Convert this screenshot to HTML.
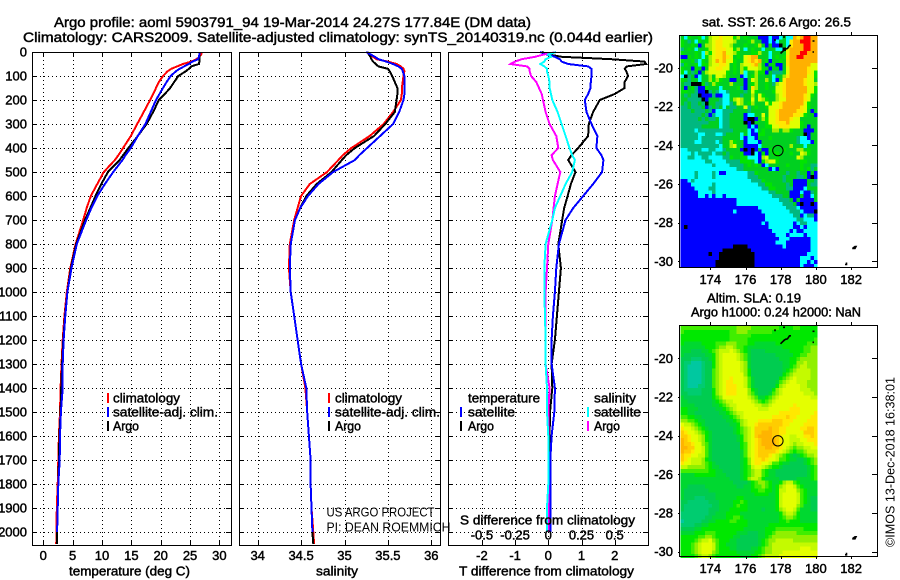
<!DOCTYPE html>
<html>
<head>
<meta charset="utf-8">
<title>Argo profile</title>
<style>
html,body{margin:0;padding:0;background:#fff;}
svg{display:block;}
text{font-family:"Liberation Sans",sans-serif;font-size:13px;fill:#000;stroke:#000;stroke-width:.45px;dominant-baseline:central;}
text.thin{stroke:none;font-size:13px;}
.frame{fill:none;stroke:#000;stroke-width:1;shape-rendering:crispEdges;}
.grid{stroke:#000;stroke-width:1;stroke-dasharray:1 3;shape-rendering:crispEdges;}
.tick{stroke:#000;stroke-width:1;shape-rendering:crispEdges;}
.line{fill:none;stroke-width:2;stroke-linejoin:miter;shape-rendering:crispEdges;}
.bar{stroke:none;shape-rendering:crispEdges;}
.cell{shape-rendering:crispEdges;stroke:none;}
</style>
</head>
<body>
<svg id="chart" xmlns="http://www.w3.org/2000/svg" width="900" height="580" viewBox="0 0 900 580">
  <rect x="0" y="0" width="900" height="580" fill="#fff"/>
  <text x="54" y="22" style="font-size:14px" textLength="477" lengthAdjust="spacingAndGlyphs">Argo profile: aoml 5903791_94 19-Mar-2014 24.27S 177.84E (DM data)</text>
  <text x="23" y="37" style="font-size:14px" textLength="630" lengthAdjust="spacingAndGlyphs">Climatology: CARS2009. Satellite-adjusted climatology: synTS_20140319.nc (0.044d earlier)</text>

  <g id="layer-grid"></g>
  <g id="layer-maps"></g>
  <g id="layer-lines"></g>
  <g id="layer-frames">
    <rect class="frame" x="32.5" y="52.5" width="199" height="493"/>
    <rect class="frame" x="239.5" y="52.5" width="201" height="493"/>
    <rect class="frame" x="448.5" y="52.5" width="200" height="493"/>
    <rect class="frame" x="679.5" y="35.5" width="198" height="232"/>
    <rect class="frame" x="679.5" y="325.5" width="198" height="231"/>
  </g>
  <g id="layer-labels"></g>

  <text x="69" y="571" textLength="121" lengthAdjust="spacingAndGlyphs">temperature (deg C)</text>
  <text x="316" y="571" textLength="42" lengthAdjust="spacingAndGlyphs">salinity</text>
  <text x="459" y="571" textLength="175" lengthAdjust="spacingAndGlyphs">T difference from climatology</text>
  <text x="460" y="520" textLength="175" lengthAdjust="spacingAndGlyphs">S difference from climatology</text>

  <g>
    <rect class="bar" x="107" y="393" width="2" height="10" fill="#f00"/>
    <text x="113" y="398" textLength="67" lengthAdjust="spacingAndGlyphs">climatology</text>
    <rect class="bar" x="107" y="407" width="2" height="10" fill="#00f"/>
    <text x="113" y="412" textLength="105" lengthAdjust="spacingAndGlyphs">satellite-adj. clim.</text>
    <rect class="bar" x="107" y="421" width="2" height="10" fill="#000"/>
    <text x="113" y="426" textLength="26" lengthAdjust="spacingAndGlyphs">Argo</text>
  </g>
  <g>
    <rect class="bar" x="328" y="393" width="2" height="10" fill="#f00"/>
    <text x="335" y="398" textLength="67" lengthAdjust="spacingAndGlyphs">climatology</text>
    <rect class="bar" x="328" y="407" width="2" height="10" fill="#00f"/>
    <text x="335" y="412" textLength="105" lengthAdjust="spacingAndGlyphs">satellite-adj. clim.</text>
    <rect class="bar" x="328" y="421" width="2" height="10" fill="#000"/>
    <text x="335" y="426" textLength="26" lengthAdjust="spacingAndGlyphs">Argo</text>
  </g>
  <g>
    <text x="468" y="398" textLength="72" lengthAdjust="spacingAndGlyphs">temperature</text>
    <rect class="bar" x="460" y="407" width="2" height="10" fill="#00f"/>
    <text x="468" y="412" textLength="47" lengthAdjust="spacingAndGlyphs">satellite</text>
    <rect class="bar" x="460" y="421" width="2" height="10" fill="#000"/>
    <text x="468" y="426" textLength="26" lengthAdjust="spacingAndGlyphs">Argo</text>
    <text x="594" y="398" textLength="42" lengthAdjust="spacingAndGlyphs">salinity</text>
    <rect class="bar" x="587" y="407" width="2" height="10" fill="#0ff"/>
    <text x="594" y="412" textLength="47" lengthAdjust="spacingAndGlyphs">satellite</text>
    <rect class="bar" x="587" y="421" width="2" height="10" fill="#f0f"/>
    <text x="594" y="426" textLength="26" lengthAdjust="spacingAndGlyphs">Argo</text>
  </g>

  <text class="thin" x="326.5" y="512" textLength="108" lengthAdjust="spacingAndGlyphs">US ARGO PROJECT</text>
  <text class="thin" x="326.5" y="527" textLength="124" lengthAdjust="spacingAndGlyphs">PI: DEAN ROEMMICH</text>

  <text x="702" y="22" textLength="149" lengthAdjust="spacingAndGlyphs">sat. SST: 26.6 Argo: 26.5</text>
  <text x="707" y="298" textLength="94" lengthAdjust="spacingAndGlyphs">Altim. SLA: 0.19</text>
  <text x="691" y="312" textLength="170" lengthAdjust="spacingAndGlyphs">Argo h1000: 0.24 h2000: NaN</text>
  <text class="thin" transform="translate(890,547) rotate(-90)" x="0" y="0" textLength="170" lengthAdjust="spacingAndGlyphs">©IMOS 13-Dec-2018 16:38:01</text>
</svg>
<script>
// ---- profile data ----
const depths = [0,10,20,30,40,50,60,70,80,100,125,150,175,200,250,300,350,400,430,450,500,550,600,650,700,800,900,1000,1100,1200,1300,1400,1500,1600,1700,1800,1900,2000,2050];
const tempClim = [27.0,26.9,26.6,26.1,25.2,23.8,22.8,21.8,21.2,20.4,19.7,19.2,18.7,18.2,17.1,16.0,14.9,13.6,12.8,12.2,10.3,9.2,8.1,7.4,6.8,5.5,4.6,4.0,3.6,3.3,3.1,2.95,2.85,2.65,2.55,2.45,2.3,2.25,2.2];
const tempArgo = [26.6,26.6,26.6,26.6,26.6,26.5,25.2,24.8,24.3,23.0,22.3,21.6,20.7,19.7,18.7,17.6,16.1,14.5,13.6,13.0,11.0,9.9,8.9,8.0,7.1,5.6,4.7,4.1,3.7,3.4,3.2,3.05,2.95,2.75,2.65,2.55,2.45,2.35,2.3];
const tempSat = [26.7,26.6,26.5,26.4,25.4,24.8,24.0,23.2,22.6,21.7,21.0,20.4,19.8,19.2,18.3,17.4,16.1,14.9,14.0,13.5,11.9,10.5,9.2,8.2,7.3,5.7,4.8,4.1,3.75,3.45,3.3,3.3,3.0,2.85,2.8,2.55,2.45,2.35,null];
const salClim = [35.25,35.29,35.33,35.37,35.5,35.6,35.65,35.68,35.69,35.68,35.67,35.66,35.66,35.65,35.56,35.45,35.29,35.08,34.98,34.93,34.8,34.6,34.5,34.46,34.42,34.37,34.36,34.38,34.42,34.46,34.5,34.55,34.57,34.59,34.61,34.61,34.62,34.64,34.65];
const salArgo = [35.27,35.28,35.3,35.31,35.33,35.36,35.39,35.5,35.52,35.55,35.58,35.61,35.61,35.6,35.58,35.47,35.34,35.12,35.02,34.97,34.85,34.68,34.56,34.49,34.43,34.38,34.37,34.38,34.42,34.46,34.5,34.56,34.57,34.59,34.61,34.61,34.62,34.63,34.64];
const salSat = [35.25,35.3,35.35,35.39,35.48,35.56,35.62,35.66,35.67,35.69,35.69,35.69,35.69,35.68,35.63,35.56,35.41,35.26,35.17,35.12,34.87,34.7,34.58,34.49,34.43,34.38,34.37,34.38,34.42,34.46,34.5,34.56,34.57,34.59,34.61,34.61,34.62,34.63,null];
const tDiffSat = [-0.25,-0.05,0.2,0.35,0.4,0.6,1.2,1.3,1.3,1.3,1.28,1.27,1.2,1.1,1.15,1.3,1.48,1.45,1.6,1.66,1.62,1.35,1.05,0.75,0.52,0.32,0.24,0.2,0.14,0.1,0.1,0.2,0.18,0.1,0.06,0.06,0.06,0.06,null];
const tDiffArgo = [-0.2,0,0.4,1.9,2.9,2.95,2.36,2.3,2.35,2.4,2.3,2.3,2.0,1.55,1.35,1.22,1.2,0.9,0.7,0.6,0.82,0.68,0.58,0.48,0.42,0.3,0.38,0.32,0.26,0.2,0.1,0.12,0.05,0.04,0.03,0.03,0.03,0.03,null];
const sDiffSat = [0.06,0,0.02,-0.02,-0.03,-0.06,-0.03,-0.01,-0.01,0,0.01,0.01,0.02,0.03,0.07,0.1,0.13,0.16,0.18,0.2,0.18,0.13,0.09,0.05,0.03,-0.02,-0.03,-0.03,-0.025,-0.02,-0.02,-0.01,-0.01,0,0,0,-0.01,-0.01,null];
const sDiffArgo = [0.06,-0.03,-0.1,-0.2,-0.25,-0.285,-0.16,-0.14,-0.14,-0.13,-0.09,-0.07,-0.05,-0.04,-0.02,0.01,0.06,0.075,0.025,0.035,0.09,0.07,0.05,0.04,0.03,0,-0.01,-0.02,-0.02,-0.02,-0.02,0.01,0,0,0,0,0,0,null];

// ---- tick labels ----
const depthTicks = [0,100,200,300,400,500,600,700,800,900,1000,1100,1200,1300,1400,1500,1600,1700,1800,1900,2000];
const tempTicks = [0,5,10,15,20,25,30];
const salTicks = [34,34.5,35,35.5,36];
const tDiffTicks = [-2,-1,0,1,2];
const sDiffTicks = [-0.5,-0.25,0,0.25,0.5];
const lonTicks = [174,176,178,180,182];
const latTicks = [-20,-22,-24,-26,-28,-30];
const argoLon = 177.84;
const argoLat = -24.27;

// ---- SST map: colour class per 0.2 degree cell ----
const sstGrid = [
"gchgghcglyyYyyyhlghgggbbbcbbcgccoYorroo",
"hgtgchghlyYYyyylggghlggbbcbcggcYoorrroo",
"hgghgbgllyYYyylggghgghlgbgbbkgcYooorroo",
"tghgcgghlyYYYyyhlgcghggcgggcckyoooorroo",
"hggghgclhyYYoyylhggghhlggcggggyooorrooo",
"bbhghgchlyYYoYyghgyYoogggcghghYoorroooo",
"hgghtchglyoYoyyhggyYoYoghbgghgYoooooooo",
"thgghchhlyyYYyghglyyYolgbghbbgYooooooyy",
"hggbhgbgyyYYyyghglhyyylhgbggbgyoooooYyy",
"hcgtgbglyyyyyhghglcgglhhbgtttgyoooooYyh",
"cktgbcgglgyylhgggbcghlggggcgglYoooooyyh",
"hgtggcgglhlhggbbggbgylgglgcbgYoooooYyyg",
"gttkkkhtglhggglgggbghlgghgtlyYoooooYyyl",
"gbghtbbhgggcgggghtbgYlgghggyyYooooooyyh",
"hhggtbbktgtcctggggtgyhgggghyyYooooooyyh",
"gtgttkbbbtbbccgggtgglgyhggglyYoooooYyhg",
"ggttttkbgggtccglylggygylhgglyyoooooYygg",
"gtgttgtkggttcctgylghlgggyhyyYooooooyhgg",
"ttgtttgbtgtgcgttggytghgghyyyYoooooYyhgg",
"tttgtttgtbcctttggggtgggggyyYoooooYYygbg",
"ttttttgtbtccttggggbccggygyyYooooYYyhggb",
"tttttgtgttgcttggggbkkbglhyyYoooYyyggggg",
"ttttttttgggcttggggkbkggghyyYYYoyyyhgggg",
"ttttttgggggcttgggggbcbgghhyyYYYyyyhgbgg",
"ttttcttttttttttggggcbcghggllgllhgggbbbg",
"tttttcctttcctggggcgcbbhhgggggggggggkbgg",
"tttttcttttttgggggcbccbggghgggggggtccbgg",
"ttttccttttctgglhggbcccbggggggggggtcccbg",
"tttttttttttcgglyggbbbbcgggggggglgggcggg",
"ccttttccttcctggggbkbkbgbbhggghgggllghgg",
"ccctcttttcttgtggghbbkcbhbghhggghggylhgg",
"ccttccttcccctthgghhcccblygghgggggylgggg",
"cccccccttcccctttthhhgcbhlyyhgggggghhggg",
"ccccccccctccccttttghghgbcggggghggghggtt",
"ccccccccccccccccttgggggggbcbgggggghghtg",
"cccctcccctcbbcccccctthggggggggtggtggbgb",
"cccctcccctccccccccctttgggggggtgggttgbkb",
"bbctccccccccccccccccttthgggggtggbbbbggt",
"bbbcccccctcccccccccccctthhggggtgbbbbgtt",
"bbbbccccttccccccccccccctthhgggttbbbcggg",
"bbbbbcccctcccccccccccccccttggggbbbcbbtg",
"bbbbbccbcbccbccccccccccccctttggbbbgbbcg",
"bbbbbbbbbbbbbbbbcccccccccccctttgbgbbbbg",
"bbbbbbbbbbbbbbbbccccccccccccctttgbkbbkb",
"bbbbbbbbbbbbbbbbbbbbbbcccccccctttcbbbbb",
"bbbbbbbbbbbbbbbcbbbbbbbcccccccctttcbbbk",
"bbbbbbbbbbbbbbbbbbbbbbbbccccccccttbcttb",
"bbbbbbbbbbbbbbbbbbbbbbbbcccccccccttcccb",
"bbbbbbbbbbbbbbbbbbbbbbbcbcccccccbcttccc",
"bkbbbbbbbbbbbbbbbbbbbbbbbcccccccbbcbccc",
"bbbbbbbbbbbbbbbbbbbbbbbbbbcccccbcbbcccc",
"bbbbbbbbbbbbbbbbbbbbbbbbbbbcccbccccbccc",
"bbbbbbbbbbbbbbbbbbbbbbbbbbbbcccbbbbbbcc",
"bbbbbbbbbbbbbbbbbbbbbbbbbbbcccbbbbbbbcc",
"bbbbbbbbbbbbbbbkkkkbbbbbbbbbbcbbbbbbbcc",
"bbbbbbbbbbbbkkkkkkkkbbbbbbbbbbbbbbbbbcc",
"bbbbbbbbkbbkkkkkkkkkkbbbbbbbbbbbbbbbccc",
"bbbbbbbbbbbkkkkkkkkkkbbbbbbbbbbbbbcccbc",
"bbbbbbbbbbkkkkkkkkkkkbbbbbbbbbbbbbccbcb",
"bbbbbbbbbbkkkkkkkkkkkbbbbbbbbbbbbbcbbbc"
];
// ---- SLA map: level code per 0.2 degree cell ----
const slaGrid = [
"555555555555555566665555555544445544444",
"544444444444445566655555554444444444444",
"444444444444445555554444444444444444444",
"444444444444445555544444444444444444445",
"433333444455566655544333333444444444555",
"333333344456677655433333333334444445566",
"333222334567778765432222333333344445566",
"322222233467888876532222222333334455666",
"222111223467888876532222222233344566666",
"211000122467888887632222222223344667666",
"210000122467888887632222222223345677666",
"210000122567888887642222222223456777766",
"210000122567888888642222222224567777766",
"210000122567889888753222222245678777766",
"210000122567899888753222222356788777666",
"210001122567899988753222222467888877666",
"211111222467899988864322224678888877766",
"221111222467899988865322235678888887776",
"322222222456888888876533456788888888877",
"332222222345677888887654567888888888888",
"333322222334567788888776678888889888888",
"443332222233456788888877788888899988888",
"443322222223345677888888888899999988889",
"554433222222334567888888889999a99888899",
"66554332222223345678889999aaa9998888999",
"8776543222222233467889aaaaaaa9988889999",
"988765432222222345678aaaabaa99888899aa9",
"a98876543222222345678aabbbaa9988888aaa9",
"aa9887643222222234678abbbbaa988778899a9",
"ba98876432222222346789abbbba98877788999",
"baa9886532222222245789abbbba98876778889",
"bbaa887532222222245789aabbaa98765667788",
"baa9887532222222235789aaaaa987654556777",
"a998877532222222235789aaa98765432345667",
"a9877764322222222346899a988755433223456",
"988777654322222223468998875543322223456",
"776666654332222223457887654432222222345",
"555555554433222223456775433222222222345",
"333344444433322223456775433222222222345",
"333333333333332223467764333322222333345",
"333333333333333222234566543346775433333",
"332222233333333322334556543467887543333",
"322222223333333333334455443477888654333",
"322222222233333333333444433478888754333",
"322211122233333344333333333478888754322",
"221111112223333445433333333478888754322",
"211111111223333454433333333478888653322",
"211111112223334444433332333467887533322",
"111111112233344443333333333346776433333",
"111111122333344554333333333345665433333",
"011111223344445544433333333344544433333",
"111122334444444444433333344444444444444",
"222233444444444444333333444555555554444",
"333344455544444433322233445666666555555",
"444445566544444332222233456666666666666",
"444456778654443322222234566777776666666",
"444567888754433322222234567777777777777",
"444567888754443322223345667777777788877",
"444567888654444433333445667778888888888",
"444456776544444443334456777788888888888"
];
const sstColors = {k:"#000000",b:"#0000ff",c:"#00ffff",t:"#00b880",g:"#00d020",h:"#00e400",l:"#a0f000",y:"#e0ff00",Y:"#ffe800",o:"#ffb000",r:"#ff0000"};
const slaColors = {"0":"#00c8a0","1":"#00cc70","2":"#00cc50","3":"#00d830","4":"#00e800","5":"#40ee00","6":"#90f000","7":"#c4fa00","8":"#e4ff00","9":"#ffe800","a":"#ffcc00","b":"#ffb400"};

// ---- axis functions ----
const yDepth = d => 52 + d * 0.24;
const xTemp = t => 43.3 + t * 5.87;
const xSal = s => 257.7 + (s - 34) * 86.8;
const xDiffT = t => 548.3 + t * 33.2;
const xDiffS = s => 548.3 + s * 132.8;
const xLon = lon => 710.3 + (lon - 174) * 17.6;
const yLatSst = lat => 68 + (-20 - lat) * 19.33;
const yLatSla = lat => 358.3 + (-20 - lat) * 19.33;

const NS = "http://www.w3.org/2000/svg";
const gridLayer = document.getElementById("layer-grid");
const mapLayer = document.getElementById("layer-maps");
const lineLayer = document.getElementById("layer-lines");
const labelLayer = document.getElementById("layer-labels");

function seg(parent, cls, x1, y1, x2, y2) {
  const l = document.createElementNS(NS, "line");
  l.setAttribute("class", cls);
  l.setAttribute("x1", x1);
  l.setAttribute("y1", y1);
  l.setAttribute("x2", x2);
  l.setAttribute("y2", y2);
  
  
  parent.appendChild(l);
}
function label(str, x, y, anchor) {
  const t = document.createElementNS(NS, "text");
  t.setAttribute("x", x);
  t.setAttribute("y", y);
  t.setAttribute("text-anchor", anchor);
  
  
  t.textContent = str;
  labelLayer.appendChild(t);
}
const px = v => Math.round(v) + 0.5;

function panelAxes(left, right, xScale, xTicks) {
  xTicks.forEach(v => {
    const x = px(xScale(v));
    seg(gridLayer, "grid", x, 52, x, 545);
    seg(gridLayer, "tick", x, 52, x, 57);
    seg(gridLayer, "tick", x, 540, x, 545);
  });
  depthTicks.forEach(d => {
    const y = px(yDepth(d));
    seg(gridLayer, "grid", left, y, right, y);
    seg(gridLayer, "tick", left, y, left + 5, y);
    seg(gridLayer, "tick", right - 5, y, right, y);
  });
}
panelAxes(32, 231, xTemp, tempTicks);
panelAxes(239, 440, xSal, salTicks);
panelAxes(448, 648, xDiffT, tDiffTicks);

depthTicks.forEach(d => label(String(d), 27, yDepth(d), "end"));
tempTicks.forEach(v => label(String(v), xTemp(v), 555.5, "middle"));
salTicks.forEach(v => label(String(v), xSal(v), 555.5, "middle"));
tDiffTicks.forEach(v => label(String(v), xDiffT(v), 555.5, "middle"));
sDiffTicks.forEach(v => label(String(v), xDiffS(v), 535, "middle"));

function profile(values, xScale, color, name, width) {
  const pts = [];
  values.forEach((v, i) => {
    if (v !== null) pts.push(xScale(v).toFixed(1) + "," + yDepth(depths[i]).toFixed(1));
  });
  const p = document.createElementNS(NS, "polyline");
  p.setAttribute("class", "line");
  p.setAttribute("points", pts.join(" "));
  p.setAttribute("stroke", color);
  p.setAttribute("stroke-width", width);
  
  
  lineLayer.appendChild(p);
}
profile(tempClim, xTemp, "#ff0000", "temperature-climatology-line", 2.5);
profile(tempArgo, xTemp, "#000000", "temperature-argo-line", 2.5);
profile(tempSat, xTemp, "#0000ff", "temperature-satellite-line", 3);
profile(salClim, xSal, "#ff0000", "salinity-climatology-line", 2.5);
profile(salArgo, xSal, "#000000", "salinity-argo-line", 2.5);
profile(salSat, xSal, "#0000ff", "salinity-satellite-line", 3);
profile(tDiffArgo, xDiffT, "#000000", "t-diff-argo-line", 2.5);
profile(tDiffSat, xDiffT, "#0000ff", "t-diff-satellite-line", 3);
profile(sDiffArgo, xDiffS, "#ff00ff", "s-diff-argo-line", 2.5);
profile(sDiffSat, xDiffS, "#00ffff", "s-diff-satellite-line", 3);

const cellDeg = 0.2;
const mapLonStart = 172.3;
const mapLatStart = -18.33;

function heatmap(grid, colors, yLat, name) {
  grid.forEach((row, r) => {
    const y0 = yLat(mapLatStart - r * cellDeg);
    const y1 = yLat(mapLatStart - (r + 1) * cellDeg);
    for (let c = 0; c < row.length; c++) {
      const x0 = xLon(mapLonStart + c * cellDeg);
      const x1 = xLon(mapLonStart + (c + 1) * cellDeg);
      const el = document.createElementNS(NS, "rect");
      el.setAttribute("class", "cell");
      el.setAttribute("x", x0.toFixed(2));
      el.setAttribute("y", y0.toFixed(2));
      el.setAttribute("width", (x1 - x0).toFixed(2));
      el.setAttribute("height", (y1 - y0).toFixed(2));
      el.setAttribute("fill", colors[row[c]]);
      
      
      mapLayer.appendChild(el);
    }
  });
}
heatmap(sstGrid, sstColors, yLatSst, "sst-cell");
heatmap(slaGrid, slaColors, yLatSla, "sla-cell");

function mapAxes(top, bottom, yLat) {
  lonTicks.forEach(lon => {
    const x = px(xLon(lon));
    seg(mapLayer, "tick", x, top - 4, x, top);
    seg(mapLayer, "tick", x, bottom, x, bottom + 3);
    label(String(lon), xLon(lon), bottom + 12.5, "middle");
  });
  latTicks.forEach(lat => {
    const y = px(yLat(lat));
    seg(mapLayer, "tick", 678, y, 680, y);
    seg(mapLayer, "tick", 872, y, 877, y);
    label(String(lat), 673, yLat(lat), "end");
  });
}
mapAxes(36, 267, yLatSst);
mapAxes(326, 556, yLatSla);

function mapOverlay(yLat, suffix) {
  const dy = yLat(-20) - 68;
  const coast = document.createElementNS(NS, "path");
  coast.setAttribute("d", "M780.5 53.5l4-4 3-1 2-3 1.5 0M782 52l4-3.5M775 39v2M783 37h2M812.5 41h2M812.5 52h1.5M845 264.5h1.5v-2M853 248l2-1.5h1l-1 2h-2z");
  coast.setAttribute("transform", "translate(0," + dy.toFixed(1) + ")");
  coast.setAttribute("fill", "none");
  coast.setAttribute("stroke", "#000");
  coast.setAttribute("stroke-width", "1.6");
  
  
  mapLayer.appendChild(coast);
  const ring = document.createElementNS(NS, "circle");
  ring.setAttribute("cx", xLon(argoLon));
  ring.setAttribute("cy", yLat(argoLat));
  ring.setAttribute("r", 5.2);
  ring.setAttribute("fill", "none");
  ring.setAttribute("stroke", "#000");
  ring.setAttribute("stroke-width", "1");
  
  
  mapLayer.appendChild(ring);
}
mapOverlay(yLatSst, "sst");
mapOverlay(yLatSla, "sla");
</script>
</body>
</html>
